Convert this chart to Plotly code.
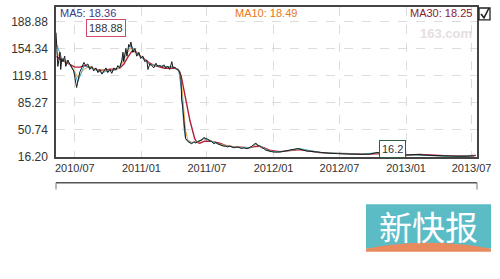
import plotly.graph_objects as go

# ---------------- data ----------------
price_dates = [
 "2010-05-10","2010-05-12","2010-05-15","2010-05-18","2010-05-21","2010-05-23","2010-05-26","2010-05-29",
 "2010-06-03","2010-06-06","2010-06-12","2010-06-17","2010-06-23","2010-06-28","2010-07-04","2010-07-06",
 "2010-07-09","2010-07-15","2010-07-20","2010-07-26","2010-07-31","2010-08-06","2010-08-11","2010-08-17",
 "2010-08-22","2010-08-28","2010-09-03","2010-09-08","2010-09-14","2010-09-19","2010-09-25","2010-09-30",
 "2010-10-06","2010-10-11","2010-10-17","2010-10-22","2010-10-28","2010-11-02","2010-11-08","2010-11-11",
 "2010-11-13","2010-11-19","2010-11-22","2010-11-27","2010-11-30","2010-12-03","2010-12-08","2010-12-14",
 "2010-12-19","2010-12-25","2010-12-30","2011-01-05","2011-01-10","2011-01-16","2011-01-19","2011-01-24",
 "2011-01-30","2011-02-04","2011-02-10","2011-02-15","2011-02-21","2011-02-26","2011-03-04","2011-03-09",
 "2011-03-15","2011-03-20","2011-03-26","2011-03-29","2011-04-03","2011-04-09","2011-04-14","2011-04-20",
 "2011-04-22","2011-04-25","2011-04-28","2011-05-01","2011-05-03","2011-05-09","2011-05-15","2011-05-20",
 "2011-05-26","2011-05-31","2011-06-06","2011-06-11","2011-06-17","2011-06-22","2011-06-28","2011-07-03",
 "2011-07-09","2011-07-14","2011-07-20","2011-07-25","2011-07-31","2011-08-05","2011-08-11","2011-08-16",
 "2011-08-22","2011-08-27","2011-09-02","2011-09-07","2011-09-13","2011-09-18","2011-09-24","2011-09-30",
 "2011-10-05","2011-10-11","2011-10-16","2011-10-22","2011-10-27","2011-11-02","2011-11-07","2011-11-13",
 "2011-11-18","2011-11-24","2011-11-29","2011-12-05","2011-12-10","2011-12-16","2011-12-21","2011-12-27",
 "2012-01-01","2012-01-07","2012-01-12","2012-01-24","2012-02-15","2012-03-08","2012-03-30","2012-04-21",
 "2012-05-13","2012-06-04","2012-06-26","2012-07-18","2012-08-09","2012-08-31","2012-09-23","2012-10-15",
 "2012-11-06","2012-11-28","2012-12-20","2013-01-11","2013-02-02","2013-02-24","2013-03-19","2013-04-10",
 "2013-05-02","2013-05-24","2013-06-16","2013-07-08"]
price_close = [
 175,160,132,140,150,128,142,138,
 145,132,140,135,130,126,110,105,
 112,125,130,137,133,135,128,132,
 126,130,124,128,122,125,130,124,
 128,123,130,127,133,130,140,150,
 138,155,145,160,157,163,150,155,
 145,150,142,145,138,140,128,135,
 133,130,136,132,133,131,134,130,
 132,128,138,130,131,128,127,120,
 90,80,60,42,40,36,34,33,
 36,34,36,37,38,41,40,39,
 37,36,33,35,33,32,31,30,
 30,29,30,29,28,28.5,29,28,
 27,28,27,27,28,30,32,34,
 31,30,28,27,25,24,23.5,23,
 22.5,22,22.5,23,25,27,24,23,
 21.5,21,20.5,20,19.5,19.5,20,22,
 19.5,18.5,18.5,19,19.5,18.5,18,17.2,
 16.8,17.2,17.2,17.8]

ma5_dates = [
 "2010-05-12","2010-05-26","2010-06-12","2010-06-28","2010-07-09","2010-07-26","2010-08-11","2010-08-28",
 "2010-09-14","2010-09-30","2010-10-17","2010-11-02","2010-11-13","2010-11-24","2010-12-05","2010-12-16",
 "2010-12-27","2011-01-10","2011-01-24","2011-02-10","2011-02-26","2011-03-15","2011-03-31","2011-04-14",
 "2011-04-22","2011-04-28","2011-05-03","2011-05-20","2011-06-06","2011-06-22","2011-07-09","2011-08-11",
 "2011-09-30","2011-10-27","2011-11-13","2011-12-21","2012-01-18","2012-03-13","2012-05-07","2012-07-02",
 "2012-08-26","2012-10-15","2012-11-17","2013-01-11","2013-03-07","2013-05-02","2013-07-08"]
ma5_vals = [
 160,142,138,126,112,132,131,128,
 124,126,127,131,145,153,158,150,
 146,140,134,133,132,131,131,127,
 100,55,39,34,36,40,37,31,
 28,28,33,23.5,22.6,27,22,20.5,
 19.6,21.8,19.2,19,18,17,17.7]

ma10_dates = [
 "2010-05-12","2010-05-26","2010-06-12","2010-06-28","2010-07-09","2010-07-26","2010-08-11","2010-08-28",
 "2010-09-14","2010-09-30","2010-10-17","2010-11-02","2010-11-13","2010-11-24","2010-12-05","2010-12-16",
 "2010-12-27","2011-01-10","2011-01-24","2011-02-10","2011-02-26","2011-03-15","2011-03-31","2011-04-14",
 "2011-04-22","2011-04-28","2011-05-03","2011-05-09","2011-05-20","2011-06-06","2011-06-22","2011-07-09",
 "2011-07-25","2011-08-11","2011-09-02","2011-09-30","2011-10-27","2011-11-13","2011-11-29","2011-12-21",
 "2012-01-18","2012-02-15","2012-03-13","2012-04-10","2012-05-07","2012-07-02","2012-08-26","2012-10-15",
 "2012-11-17","2013-01-11","2013-03-07","2013-05-02","2013-07-08"]
ma10_vals = [
 150,140,137,128,118,128,132,128,
 126,127,127,130,140,150,156,152,
 147,141,134,133,132,131,131,128,
 110,80,50,38,35,35,39,38,
 34,32,30,28.5,28,32,29,24,
 22.8,24.5,26.5,24,22,20.5,19.7,21.2,
 19.5,19,18.3,17.2,17.6]

ma30_dates = [
 "2010-05-12","2010-05-21","2010-06-03","2010-06-17","2010-07-01","2010-07-15","2010-07-29","2010-08-11",
 "2010-08-25","2010-09-08","2010-09-22","2010-10-06","2010-10-19","2010-11-02","2010-11-13","2010-11-24",
 "2010-12-05","2010-12-16","2010-12-27","2011-01-10","2011-01-24","2011-02-07","2011-02-21","2011-03-06",
 "2011-03-20","2011-04-03","2011-04-11","2011-04-17","2011-04-22","2011-05-01","2011-05-15","2011-05-28",
 "2011-06-03","2011-06-11","2011-06-25","2011-07-09","2011-07-23","2011-08-05","2011-08-19","2011-09-02",
 "2011-09-16","2011-09-30","2011-10-13","2011-10-27","2011-11-10","2011-11-24","2011-12-08","2011-12-21",
 "2012-01-04","2012-01-18","2012-02-15","2012-03-13","2012-04-10","2012-05-07","2012-06-04","2012-07-02",
 "2012-07-29","2012-08-26","2012-09-23","2012-10-20","2012-11-17","2012-12-14","2013-01-11","2013-02-08",
 "2013-03-07","2013-04-04","2013-05-02","2013-05-30","2013-06-27","2013-07-13"]
ma30_vals = [
 144.7,141,138,134.7,131,131,133,131,
 128.4,127,127,128.4,128.4,129.6,134.7,143.5,
 151,151,146,141,136,133,131,129.6,
 129.6,129.6,128.4,124.6,117,94,62.8,40,
 35,33.8,36.4,36.4,35,33.8,31.3,30,
 28.8,28.8,28.2,28.2,29.4,30,27.5,25,
 23.8,23.1,24.4,25.6,23.8,21.9,21.2,20.6,
 20,20,20,20.6,19.4,18.7,18.7,19.4,
 18.7,18.1,17.5,17.5,18.1,18.1]

y_ticks = [16.20, 50.74, 85.27, 119.81, 154.34, 188.88]
y_ticktext = ["16.20", "50.74", "85.27", "119.81", "154.34", "188.88"]
x_ticks = ["2010-07-01", "2011-01-01", "2011-07-01", "2012-01-01", "2012-07-01", "2013-01-01", "2013-07-01"]
x_ticktext = ["2010/07", "2011/01", "2011/07", "2012/01", "2012/07", "2013/01", "2013/07"]
legend_labels = ["MA5: 18.36", "MA10: 18.49", "MA30: 18.25"]
max_label = "188.88"
min_label = "16.2"

# ---------------- layout helpers (pixel -> paper) ----------------
L, R, T, B = 56, 477, 5, 157
W, H = 500, 279
def px(x):
    return (x - L) / (R - L)
def py(y):
    return (B - y) / (B - T)

FONT = "Liberation Sans"
fig = go.Figure()
fig.add_trace(go.Scatter(x=ma30_dates, y=ma30_vals, mode="lines",
                         line=dict(color="#b0203a", width=1.4), hoverinfo="skip"))
fig.add_trace(go.Scatter(x=ma10_dates, y=ma10_vals, mode="lines",
                         line=dict(color="#f0a040", width=1), hoverinfo="skip"))
fig.add_trace(go.Scatter(x=ma5_dates, y=ma5_vals, mode="lines",
                         line=dict(color="#40a8c8", width=1), hoverinfo="skip"))
fig.add_trace(go.Scatter(x=price_dates, y=price_close, mode="lines",
                         line=dict(color="#1a1a1a", width=1), hoverinfo="skip"))

ymin = 16.20
ymax = 16.20 + (B - T) * (188.88 - 16.20) / 137.0

fig.update_layout(
    width=W, height=H, showlegend=False,
    margin=dict(l=L, r=W - R, t=T, b=H - B),
    paper_bgcolor="white", plot_bgcolor="white",
    font=dict(family=FONT, color="#333333"),
    xaxis=dict(type="date", range=["2010-05-10", "2013-07-16"],
               tickvals=x_ticks, ticktext=x_ticktext, tickfont=dict(size=11, color="#333"),
               showgrid=True, gridcolor="#dcdcdc", griddash="dash", gridwidth=1,
               showline=True, linecolor="#444", linewidth=1.5, mirror=True,
               ticks="", zeroline=False),
    yaxis=dict(range=[ymin, ymax], tickvals=y_ticks, ticktext=y_ticktext,
               tickfont=dict(size=12, color="#333"), ticklabelstandoff=4,
               showgrid=True, gridcolor="#dcdcdc", griddash="dash", gridwidth=1,
               showline=True, linecolor="#444", linewidth=1.5, mirror=True,
               ticks="", zeroline=False),
)

ann = []
ann.append(dict(x=px(58), y=py(11), xref="paper", yref="paper", text=legend_labels[0],
                showarrow=False, xanchor="left", yanchor="middle",
                font=dict(size=11, color="#3a3a8c", family=FONT)))
ann.append(dict(x=px(266), y=py(11), xref="paper", yref="paper", text=legend_labels[1],
                showarrow=False, xanchor="center", yanchor="middle",
                font=dict(size=11, color="#e8781e", family=FONT)))
ann.append(dict(x=px(474), y=py(11), xref="paper", yref="paper", text=legend_labels[2],
                showarrow=False, xanchor="right", yanchor="middle",
                font=dict(size=11, color="#8b2030", family=FONT)))
ann.append(dict(x=px(446), y=py(32), xref="paper", yref="paper", text="<b>163.com</b>",
                showarrow=False, xanchor="center", yanchor="middle",
                font=dict(size=13, color="#e6dede", family=FONT)))
ann.append(dict(x=px(106), y=py(26.5), xref="paper", yref="paper", text=max_label,
                showarrow=False, xanchor="center", yanchor="middle",
                bordercolor="#d04a6a", borderwidth=1, borderpad=2, bgcolor="white",
                font=dict(size=11, color="#333", family=FONT)))
ann.append(dict(x=px(392), y=py(148.5), xref="paper", yref="paper", text=min_label,
                showarrow=False, xanchor="center", yanchor="middle",
                bordercolor="#2f5f3f", borderwidth=1, borderpad=2, bgcolor="white",
                font=dict(size=11, color="#333", family=FONT)))
ann.append(dict(x=px(428.5), y=py(227), xref="paper", yref="paper", text="新快报",
                showarrow=False, xanchor="center", yanchor="middle",
                font=dict(size=33, color="white", family="Noto Sans CJK SC")))
fig.update_layout(annotations=ann)

shapes = []
# second panel top edge (cut off)
shapes.append(dict(type="line", xref="paper", yref="paper", x0=px(56), x1=px(477), y0=py(183), y1=py(183),
                   line=dict(color="#555", width=1.5)))
shapes.append(dict(type="line", xref="paper", yref="paper", x0=px(56), x1=px(56), y0=py(183), y1=py(190),
                   line=dict(color="#777", width=1)))
shapes.append(dict(type="line", xref="paper", yref="paper", x0=px(477), x1=px(477), y0=py(183), y1=py(190),
                   line=dict(color="#777", width=1)))
# checkbox
shapes.append(dict(type="rect", xref="paper", yref="paper", x0=px(479), x1=px(490), y0=py(18), y1=py(6),
                   line=dict(color="#222", width=1.3), fillcolor="white"))
shapes.append(dict(type="path", xref="paper", yref="paper",
                   path=f"M {px(481)},{py(12)} L {px(484)},{py(16)} L {px(489)},{py(6)}",
                   line=dict(color="#222", width=1.6)))
# logo
shapes.append(dict(type="rect", xref="paper", yref="paper", x0=px(366), x1=px(491), y0=py(250), y1=py(205),
                   line=dict(width=0), fillcolor="#5cbcc6", layer="below"))
shapes.append(dict(type="path", xref="paper", yref="paper",
                   path=(f"M {px(366)},{py(250)} Q {px(428)},{py(238)} {px(491)},{py(250)} "
                         f"L {px(491)},{py(253)} L {px(366)},{py(253)} Z"),
                   line=dict(width=0), fillcolor="#e98a5e", layer="below"))
fig.update_layout(shapes=shapes)

fig.write_html("out.html")
